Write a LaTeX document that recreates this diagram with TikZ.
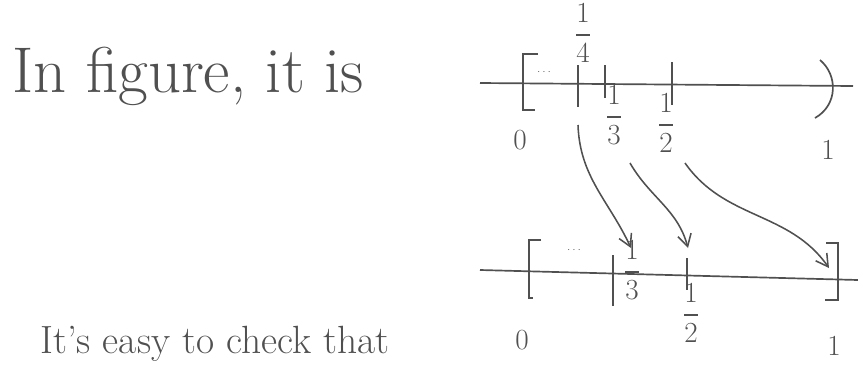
\documentclass[tikz,border=0pt]{standalone}
\usepackage{amsmath}
\usetikzlibrary{arrows.meta,positioning}
\definecolor{ink}{HTML}{505050}

\begin{document}
\begin{tikzpicture}[x=0.025cm,y=-0.025cm,color=ink,line width=1.2pt,
    every node/.style={font=\fontsize{21}{25}\selectfont,text=ink,inner sep=1pt},
    word/.style={font=\fontsize{46}{52}\selectfont,anchor=base west},
    maparrow/.style={-{Straight Barb[length=3mm,width=3.4mm]},line width=1.1pt}]
  \useasboundingbox (0,0) rectangle (858,364);
  % text
  \node[word] (top) at (10,92) {In figure, it is};
  \node[word,font=\fontsize{28}{32}\selectfont] (bot) at (38,353) {It's easy to check that};
  % upper line
  \draw (480,83) -- (853,86);
  \draw (538,54) -- (523,54) -- (523,110) -- (535,110);
  \node[font=\scriptsize] (dotsA) at (545,72) {$\cdots$};
  \coordinate (q4) at (578,84);
  \coordinate (q3) at (605,84.5);
  \coordinate (q2) at (672,85);
  \draw (578,65) -- (578,107);
  \draw (605,65) -- (605,98);
  \draw (672,62) -- (672,105);
  \draw (820,60) .. controls (838,75) and (838,105) .. (815,118);
  \node (l4) at (583,33) {$\dfrac{1}{4}$};
  \node (l3) at (614,115) {$\dfrac{1}{3}$};
  \node (l2) at (666,123) {$\dfrac{1}{2}$};
  \node (z0) at (520,140) {$0$};
  \node (o1) at (828,150) {$1$};
  % lower line
  \draw (480,270) -- (858,280);
  \draw (541,240) -- (529,240) -- (529,298) -- (533,298);
  \node[font=\scriptsize] (dotsB) at (575,250) {$\cdots$};
  \coordinate (p3) at (613,273);
  \coordinate (p2) at (687,276);
  \draw (613,255) -- (613,306);
  \draw (687,258) -- (687,290);
  \draw (826,243) -- (838,243) -- (838,300) -- (825,300);
  \node (m3) at (632,270) {$\dfrac{1}{3}$};
  \node (m2) at (691,313) {$\dfrac{1}{2}$};
  \node (z1) at (522,340) {$0$};
  \node (o2) at (834,346) {$1$};
  % maps
  \coordinate (s4) at (578,125);
  \coordinate (s3) at (630,163);
  \coordinate (s2) at (685,163);
  \coordinate (e3) at (631,248);
  \coordinate (e2) at (688,248);
  \coordinate (e1) at (829,268);
  \draw[maparrow] (s4) to[out=-88,in=115] (e3);
  \draw[maparrow] (s3) to[out=-60,in=105] (e2);
  \draw[maparrow] (s2) to[out=-55,in=125] (e1);
\end{tikzpicture}
\end{document}
